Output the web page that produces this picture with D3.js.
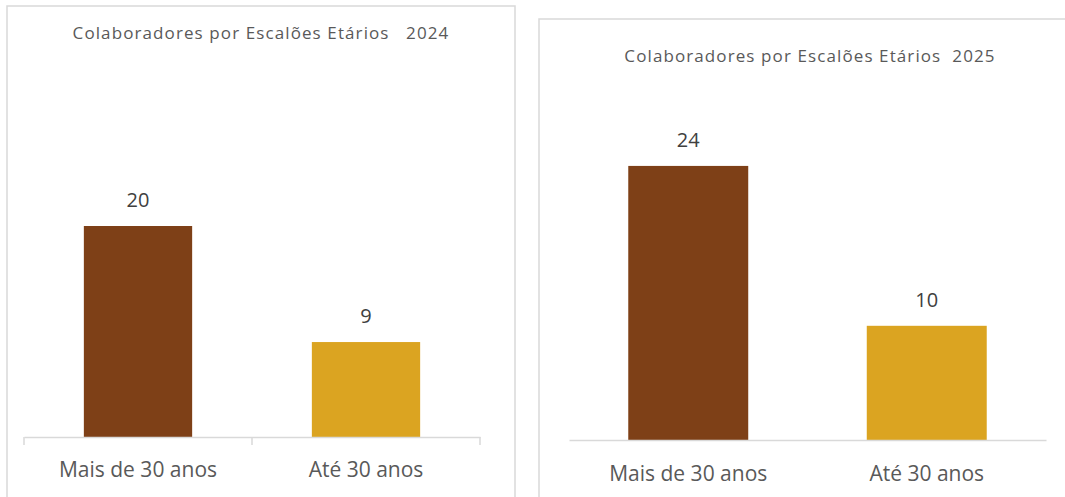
<!DOCTYPE html>
<html lang="pt">
<head>
<meta charset="utf-8">
<script src="https://cdn.jsdelivr.net/npm/d3@7"></script>
<style>
  body { margin: 0; background: #fff; }
  svg text { font-family: "Open Sans", sans-serif; }
</style>
</head>
<body>
<script>
// data
var categories = ["Mais de 30 anos", "Até 30 anos"];
var values2024 = [20, 9];
var values2025 = [24, 10];
var colors = ["#7e4017", "#dba421"];
var titles = ["Colaboradores por Escalões Etários\u00a0\u00a0\u00a02024",
              "Colaboradores por Escalões Etários\u00a0\u00a02025"];

var svg = d3.select("body").append("svg")
    .attr("width", 1065)
    .attr("height", 497);

// one panel per year
var panels = [
  { frame: [7, 6, 508, 520], title: titles[0], titleX: 261, titleY: 39,
    x0: 24, x1: 480, axisY: 437, pxPerUnit: 10.55, barFrac: 0.475,
    values: values2024, edgeTicks: true, labelY: 477 },
  { frame: [539, 19, 560, 520], title: titles[1], titleX: 810, titleY: 62,
    x0: 569, x1: 1046, axisY: 440, pxPerUnit: 11.42, barFrac: 0.503,
    values: values2025, edgeTicks: false, labelY: 481 }
];

panels.forEach(function (p) {
  var g = svg.append("g");

  g.append("rect")
    .attr("x", p.frame[0]).attr("y", p.frame[1])
    .attr("width", p.frame[2]).attr("height", p.frame[3])
    .attr("fill", "#fff")
    .attr("stroke", "#d9d9d9")
    .attr("stroke-width", 1.5);

  g.append("text")
    .attr("x", p.titleX).attr("y", p.titleY)
    .attr("text-anchor", "middle")
    .attr("font-size", 17)
    .attr("letter-spacing", 1.1)
    .attr("fill", "#595959")
    .text(p.title);

  var x = d3.scaleBand().domain(categories).range([p.x0, p.x1]).padding(0);
  var yMax = 30;
  var y = d3.scaleLinear().domain([0, yMax]).range([p.axisY, p.axisY - yMax * p.pxPerUnit]);
  var bw = x.bandwidth() * p.barFrac;

  g.selectAll(".bar").data(p.values).enter().append("rect")
    .attr("class", "bar")
    .attr("x", function (d, i) { return x(categories[i]) + (x.bandwidth() - bw) / 2; })
    .attr("y", function (d) { return y(d); })
    .attr("width", bw)
    .attr("height", function (d) { return y(0) - y(d); })
    .attr("fill", function (d, i) { return colors[i]; });

  g.selectAll(".val").data(p.values).enter().append("text")
    .attr("class", "val")
    .attr("x", function (d, i) { return x(categories[i]) + x.bandwidth() / 2; })
    .attr("y", function (d) { return y(d) - 19; })
    .attr("text-anchor", "middle")
    .attr("font-size", 20)
    .attr("fill", "#404040")
    .text(function (d) { return d; });

  // axis line + labels
  var axis = g.append("g")
    .attr("transform", "translate(0," + p.axisY + ")")
    .call(d3.axisBottom(x).tickSize(0).tickPadding(0));
  axis.select(".domain").attr("stroke", "#d9d9d9").attr("stroke-width", 1.5);
  axis.selectAll("text").remove();

  g.selectAll(".cat").data(categories).enter().append("text")
    .attr("class", "cat")
    .attr("x", function (d) { return x(d) + x.bandwidth() / 2; })
    .attr("y", p.labelY)
    .attr("text-anchor", "middle")
    .attr("font-size", 21)
    .attr("fill", "#595959")
    .text(function (d) { return d; });

  if (p.edgeTicks) {
    var edges = categories.map(function (d) { return x(d); }).concat([p.x1]);
    g.selectAll(".edge").data(edges).enter().append("line")
      .attr("class", "edge")
      .attr("x1", function (d) { return d; }).attr("x2", function (d) { return d; })
      .attr("y1", p.axisY).attr("y2", p.axisY + 8)
      .attr("stroke", "#d9d9d9").attr("stroke-width", 1.5);
  }
});
</script>
</body>
</html>
